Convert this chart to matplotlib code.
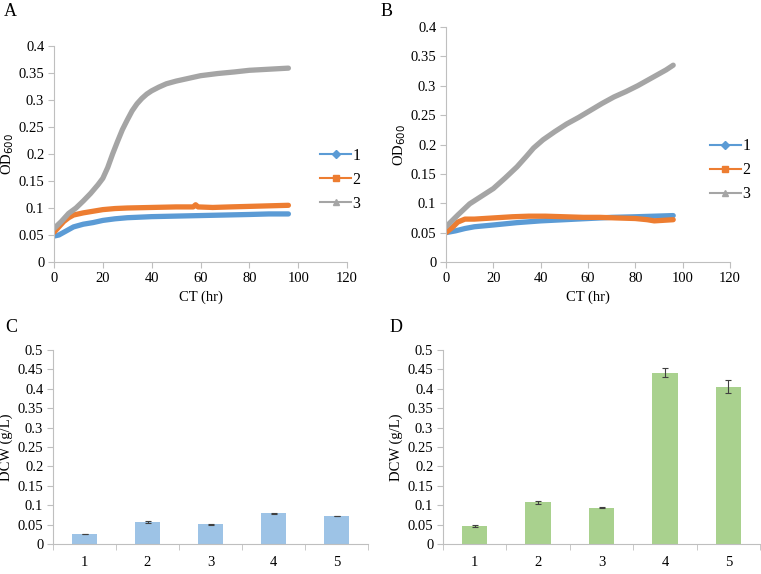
import matplotlib.pyplot as plt

plt.rcParams['font.family'] = ['Liberation Serif', 'DejaVu Serif']
plt.rcParams['font.size'] = 10.5

# growth curves, panel A (hours, OD600)
t_a3 = [0, 3, 6, 9, 12, 15, 18, 20, 22, 24, 26, 28, 30, 32, 34, 36, 38, 40,
        43, 46, 50, 55, 60, 67, 74, 80, 88, 96]
od_a3 = [0.062, 0.075, 0.090, 0.100, 0.113, 0.127, 0.143, 0.155, 0.175, 0.200,
         0.223, 0.245, 0.263, 0.280, 0.293, 0.303, 0.311, 0.317, 0.324, 0.330,
         0.335, 0.340, 0.345, 0.349, 0.352, 0.355, 0.357, 0.359]
t_a2 = [0, 2, 4, 6, 8, 12, 16, 20, 25, 30, 40, 50, 57, 58, 59, 65, 72, 80, 88, 96]
od_a2 = [0.055, 0.065, 0.075, 0.082, 0.087, 0.091, 0.094, 0.097, 0.099, 0.100,
         0.101, 0.102, 0.102, 0.106, 0.102, 0.101, 0.102, 0.103, 0.104, 0.105]
t_a1 = [0, 2, 4, 6, 8, 12, 16, 20, 25, 30, 40, 50, 60, 70, 80, 88, 96]
od_a1 = [0.048, 0.050, 0.055, 0.060, 0.065, 0.070, 0.073, 0.077, 0.080, 0.082,
         0.084, 0.085, 0.086, 0.087, 0.088, 0.089, 0.089]

# growth curves, panel B
t_b3 = [0, 5, 10, 15, 20, 25, 30, 34, 37, 41, 46, 51, 56, 61, 66, 71, 76, 81, 85, 89, 93, 96]
od_b3 = [0.060, 0.080, 0.099, 0.112, 0.125, 0.143, 0.162, 0.180, 0.194, 0.208,
         0.222, 0.235, 0.246, 0.258, 0.270, 0.281, 0.290, 0.300, 0.309, 0.318,
         0.327, 0.335]
t_b2 = [0, 3, 5, 8, 12, 20, 28, 35, 42, 50, 58, 65, 72, 80, 85, 88, 92, 96]
od_b2 = [0.050, 0.060, 0.068, 0.073, 0.073, 0.075, 0.077, 0.078, 0.078, 0.077,
         0.076, 0.076, 0.075, 0.074, 0.072, 0.070, 0.071, 0.072]
t_b1 = [0, 4, 8, 12, 20, 30, 40, 50, 60, 70, 80, 88, 96]
od_b1 = [0.050, 0.053, 0.057, 0.060, 0.063, 0.067, 0.070, 0.072, 0.074, 0.076,
         0.077, 0.078, 0.079]

# dry cell weight bars
cats = ['1', '2', '3', '4', '5']
dcw_c = [0.026, 0.057, 0.051, 0.079, 0.072]
err_c = [0.001, 0.002, 0.001, 0.001, 0.001]
dcw_d = [0.046, 0.108, 0.094, 0.442, 0.405]
err_d = [0.002, 0.004, 0.001, 0.012, 0.017]

blue = '#5B9BD5'
orange = '#ED7D31'
gray = '#A5A5A5'
axcol = '#BFBFBF'

W, H = 761, 574
fig = plt.figure(figsize=(W / 100, H / 100), dpi=100)


def box(l, r, t, b):
    return [l / W, 1 - b / H, (r - l) / W, (b - t) / H]


def style(ax):
    for s in ['top', 'right']:
        ax.spines[s].set_visible(False)
    for s in ['left', 'bottom']:
        ax.spines[s].set_color(axcol)
        ax.spines[s].set_linewidth(0.8)
    ax.tick_params(color=axcol, length=4, width=0.8, pad=3)


def growth(ax, series, leg_anchor):
    handles = []
    for t, v, c, m, lab in series:
        ax.plot(t, v, color=c, lw=3.8, solid_capstyle='round', zorder=2)
        h, = ax.plot([], [], color=c, lw=1.5, marker=m, ms=4, label=lab)
        handles.append(h)
    ax.set_xlim(0, 120)
    ax.set_ylim(0, 0.4)
    ax.set_xticks(range(0, 121, 20))
    ax.set_yticks([0, 0.05, 0.1, 0.15, 0.2, 0.25, 0.3, 0.35, 0.4])
    ax.set_yticklabels(['0', '0.05', '0.1', '0.15', '0.2', '0.25', '0.3', '0.35', '0.4'])
    ax.set_xlabel('CT (hr)', labelpad=4)
    ax.set_ylabel('OD$_{600}$', labelpad=2)
    ax.legend(handles=handles, loc='center left', bbox_to_anchor=leg_anchor,
              frameon=False, handlelength=1.9, handletextpad=0.1,
              labelspacing=0.5, fontsize=11.5)
    style(ax)


axA = fig.add_axes(box(54, 347, 46, 262))
growth(axA, [(t_a1, od_a1, blue, 'D', '1'), (t_a2, od_a2, orange, 's', '2'),
             (t_a3, od_a3, gray, '^', '3')], (0.86, 0.38))

axB = fig.add_axes(box(446, 730, 27, 262))
growth(axB, [(t_b1, od_b1, blue, 'D', '1'), (t_b2, od_b2, orange, 's', '2'),
             (t_b3, od_b3, gray, '^', '3')], (0.88, 0.39))


def bars(ax, vals, errs, color):
    x = range(1, len(cats) + 1)
    ax.bar(x, vals, width=0.4, color=color, yerr=errs, capsize=2.5,
           error_kw=dict(ecolor='#404040', elinewidth=0.8, capthick=0.8))
    ax.set_xlim(0.5, 5.5)
    ax.set_ylim(0, 0.5)
    ax.set_xticks(list(x))
    ax.set_xticklabels(cats)
    ax.set_xticks([0.5, 1.5, 2.5, 3.5, 4.5, 5.5], minor=True)
    yt = [0, 0.05, 0.1, 0.15, 0.2, 0.25, 0.3, 0.35, 0.4, 0.45, 0.5]
    ax.set_yticks(yt)
    ax.set_yticklabels(['0', '0.05', '0.1', '0.15', '0.2', '0.25', '0.3',
                        '0.35', '0.4', '0.45', '0.5'])
    ax.set_ylabel('DCW (g/L)', labelpad=3)
    style(ax)
    ax.tick_params(axis='x', which='major', length=0, pad=9)
    ax.tick_params(axis='x', which='minor', length=4, color=axcol)


axC = fig.add_axes(box(53, 368, 350, 544))
bars(axC, dcw_c, err_c, '#9DC3E6')

axD = fig.add_axes(box(443, 760, 350, 544))
bars(axD, dcw_d, err_d, '#A9D18E')

for lab, x, y in [('A', 4, 12), ('B', 381, 12), ('C', 5, 327), ('D', 390, 327)]:
    fig.text(x / W, 1 - y / H, lab, fontsize=13, va='center', ha='left')

fig.savefig('out.png', dpi=100)
